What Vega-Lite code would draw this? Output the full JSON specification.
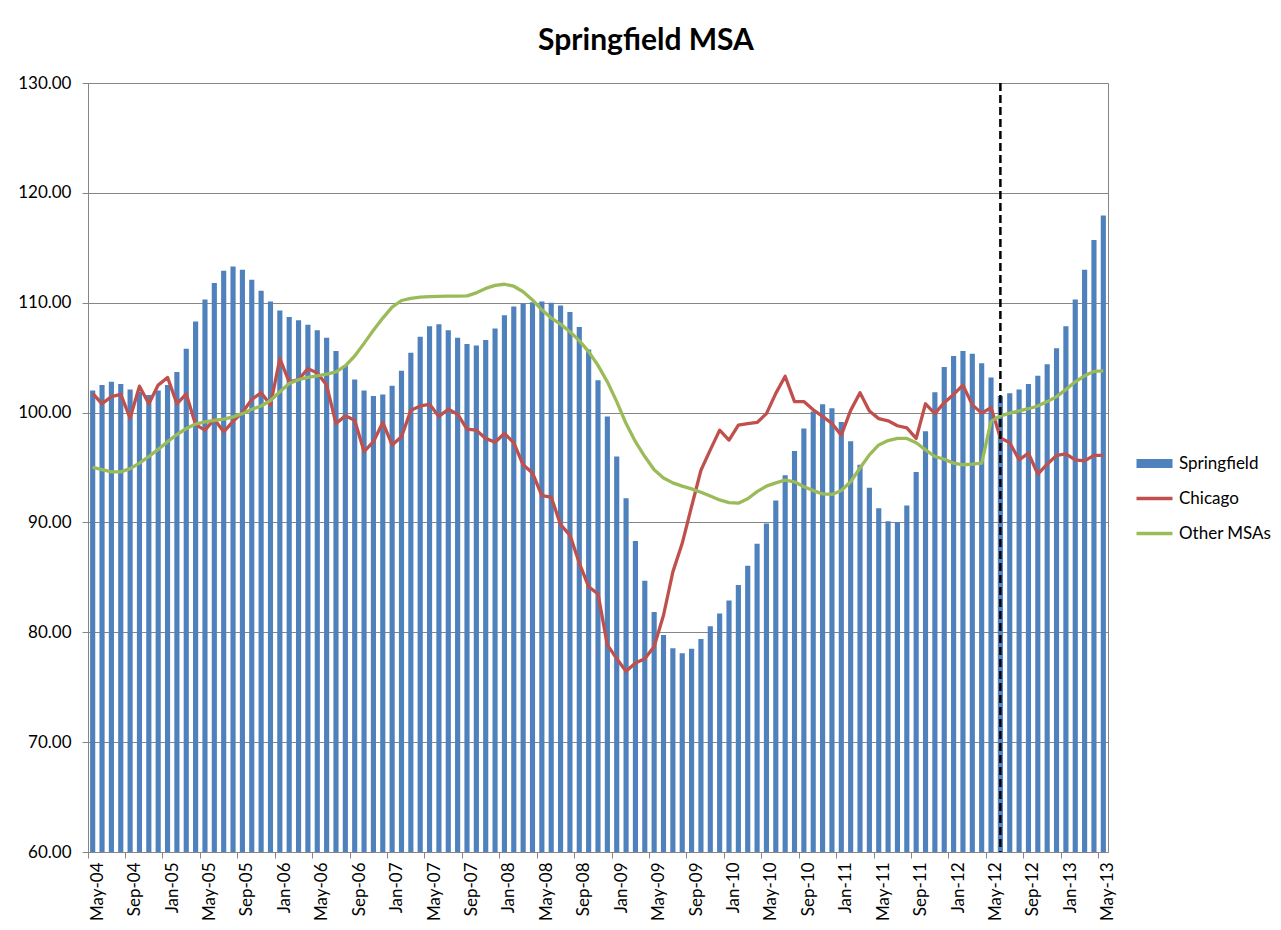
{
  "$schema": "https://vega.github.io/schema/vega-lite/v6.json",
  "width": 1020,
  "height": 769,
  "autosize": {"type": "none"},
  "padding": {"left": 88, "top": 83, "right": 173, "bottom": 78},
  "background": "white",
  "title": {"text": "Springfield MSA", "font": "Lato", "fontSize": 30, "fontWeight": "bold", "color": "black", "anchor": "middle", "frame": "group", "dx": 48, "dy": 30, "offset": 18, "baseline": "bottom"},
  "config": {"view": {"stroke": "#868686", "strokeWidth": 1}, "font": "Lato"},
  "data": {"values": [
    {"m": "May-04", "Springfield": 102.0, "Chicago": 101.75, "Other MSAs": 95.02},
    {"m": "Jun-04", "Springfield": 102.5, "Chicago": 100.8, "Other MSAs": 94.8},
    {"m": "Jul-04", "Springfield": 102.8, "Chicago": 101.45, "Other MSAs": 94.6},
    {"m": "Aug-04", "Springfield": 102.6, "Chicago": 101.65, "Other MSAs": 94.6},
    {"m": "Sep-04", "Springfield": 102.1, "Chicago": 99.5, "Other MSAs": 94.9},
    {"m": "Oct-04", "Springfield": 101.9, "Chicago": 102.4, "Other MSAs": 95.4},
    {"m": "Nov-04", "Springfield": 101.6, "Chicago": 100.8, "Other MSAs": 96.0},
    {"m": "Dec-04", "Springfield": 102.0, "Chicago": 102.5, "Other MSAs": 96.65},
    {"m": "Jan-05", "Springfield": 102.5, "Chicago": 103.2, "Other MSAs": 97.35},
    {"m": "Feb-05", "Springfield": 103.7, "Chicago": 100.8, "Other MSAs": 98.0},
    {"m": "Mar-05", "Springfield": 105.8, "Chicago": 101.7, "Other MSAs": 98.55},
    {"m": "Apr-05", "Springfield": 108.3, "Chicago": 98.9, "Other MSAs": 98.95},
    {"m": "May-05", "Springfield": 110.3, "Chicago": 98.4, "Other MSAs": 99.15},
    {"m": "Jun-05", "Springfield": 111.8, "Chicago": 99.4, "Other MSAs": 99.3},
    {"m": "Jul-05", "Springfield": 112.9, "Chicago": 98.25, "Other MSAs": 99.4},
    {"m": "Aug-05", "Springfield": 113.3, "Chicago": 99.2, "Other MSAs": 99.6},
    {"m": "Sep-05", "Springfield": 113.0, "Chicago": 100.0, "Other MSAs": 99.9},
    {"m": "Oct-05", "Springfield": 112.1, "Chicago": 101.2, "Other MSAs": 100.3},
    {"m": "Nov-05", "Springfield": 111.1, "Chicago": 101.8, "Other MSAs": 100.6},
    {"m": "Dec-05", "Springfield": 110.1, "Chicago": 100.7, "Other MSAs": 101.1},
    {"m": "Jan-06", "Springfield": 109.3, "Chicago": 104.9, "Other MSAs": 101.9},
    {"m": "Feb-06", "Springfield": 108.7, "Chicago": 102.8, "Other MSAs": 102.65},
    {"m": "Mar-06", "Springfield": 108.4, "Chicago": 103.0, "Other MSAs": 103.0},
    {"m": "Apr-06", "Springfield": 108.0, "Chicago": 104.0, "Other MSAs": 103.2},
    {"m": "May-06", "Springfield": 107.5, "Chicago": 103.6, "Other MSAs": 103.35},
    {"m": "Jun-06", "Springfield": 106.8, "Chicago": 102.5, "Other MSAs": 103.5},
    {"m": "Jul-06", "Springfield": 105.6, "Chicago": 99.0, "Other MSAs": 103.7},
    {"m": "Aug-06", "Springfield": 104.3, "Chicago": 99.7, "Other MSAs": 104.25},
    {"m": "Sep-06", "Springfield": 103.0, "Chicago": 99.3, "Other MSAs": 105.15},
    {"m": "Oct-06", "Springfield": 102.0, "Chicago": 96.45, "Other MSAs": 106.3},
    {"m": "Nov-06", "Springfield": 101.5, "Chicago": 97.35, "Other MSAs": 107.5},
    {"m": "Dec-06", "Springfield": 101.65, "Chicago": 99.1, "Other MSAs": 108.6},
    {"m": "Jan-07", "Springfield": 102.45, "Chicago": 97.05, "Other MSAs": 109.6},
    {"m": "Feb-07", "Springfield": 103.8, "Chicago": 97.8, "Other MSAs": 110.2},
    {"m": "Mar-07", "Springfield": 105.45, "Chicago": 100.2, "Other MSAs": 110.4},
    {"m": "Apr-07", "Springfield": 106.9, "Chicago": 100.6, "Other MSAs": 110.5},
    {"m": "May-07", "Springfield": 107.85, "Chicago": 100.75, "Other MSAs": 110.55},
    {"m": "Jun-07", "Springfield": 108.05, "Chicago": 99.65, "Other MSAs": 110.57},
    {"m": "Jul-07", "Springfield": 107.5, "Chicago": 100.3, "Other MSAs": 110.6},
    {"m": "Aug-07", "Springfield": 106.8, "Chicago": 99.85, "Other MSAs": 110.6},
    {"m": "Sep-07", "Springfield": 106.25, "Chicago": 98.5, "Other MSAs": 110.62},
    {"m": "Oct-07", "Springfield": 106.1, "Chicago": 98.4, "Other MSAs": 110.9},
    {"m": "Nov-07", "Springfield": 106.6, "Chicago": 97.65, "Other MSAs": 111.3},
    {"m": "Dec-07", "Springfield": 107.65, "Chicago": 97.3, "Other MSAs": 111.58},
    {"m": "Jan-08", "Springfield": 108.85, "Chicago": 98.1, "Other MSAs": 111.68},
    {"m": "Feb-08", "Springfield": 109.65, "Chicago": 97.25, "Other MSAs": 111.5},
    {"m": "Mar-08", "Springfield": 109.95, "Chicago": 95.25, "Other MSAs": 111.0},
    {"m": "Apr-08", "Springfield": 110.05, "Chicago": 94.5, "Other MSAs": 110.25},
    {"m": "May-08", "Springfield": 110.1, "Chicago": 92.45, "Other MSAs": 109.35},
    {"m": "Jun-08", "Springfield": 110.0, "Chicago": 92.3, "Other MSAs": 108.6},
    {"m": "Jul-08", "Springfield": 109.75, "Chicago": 89.8, "Other MSAs": 108.05},
    {"m": "Aug-08", "Springfield": 109.15, "Chicago": 88.85, "Other MSAs": 107.35},
    {"m": "Sep-08", "Springfield": 107.8, "Chicago": 86.3, "Other MSAs": 106.55},
    {"m": "Oct-08", "Springfield": 105.75, "Chicago": 84.15, "Other MSAs": 105.55},
    {"m": "Nov-08", "Springfield": 102.95, "Chicago": 83.5, "Other MSAs": 104.3},
    {"m": "Dec-08", "Springfield": 99.65, "Chicago": 78.85, "Other MSAs": 102.8},
    {"m": "Jan-09", "Springfield": 96.0, "Chicago": 77.6, "Other MSAs": 101.0},
    {"m": "Feb-09", "Springfield": 92.2, "Chicago": 76.45, "Other MSAs": 99.0},
    {"m": "Mar-09", "Springfield": 88.3, "Chicago": 77.2, "Other MSAs": 97.35},
    {"m": "Apr-09", "Springfield": 84.7, "Chicago": 77.6, "Other MSAs": 96.0},
    {"m": "May-09", "Springfield": 81.85, "Chicago": 78.7, "Other MSAs": 94.8},
    {"m": "Jun-09", "Springfield": 79.75, "Chicago": 81.55, "Other MSAs": 94.05},
    {"m": "Jul-09", "Springfield": 78.55, "Chicago": 85.5, "Other MSAs": 93.6},
    {"m": "Aug-09", "Springfield": 78.1, "Chicago": 88.1, "Other MSAs": 93.3},
    {"m": "Sep-09", "Springfield": 78.5, "Chicago": 91.45, "Other MSAs": 93.05},
    {"m": "Oct-09", "Springfield": 79.4, "Chicago": 94.75, "Other MSAs": 92.75},
    {"m": "Nov-09", "Springfield": 80.55, "Chicago": 96.6, "Other MSAs": 92.4},
    {"m": "Dec-09", "Springfield": 81.7, "Chicago": 98.4, "Other MSAs": 92.05},
    {"m": "Jan-10", "Springfield": 82.9, "Chicago": 97.5, "Other MSAs": 91.8},
    {"m": "Feb-10", "Springfield": 84.3, "Chicago": 98.85, "Other MSAs": 91.75},
    {"m": "Mar-10", "Springfield": 86.05, "Chicago": 99.0, "Other MSAs": 92.15},
    {"m": "Apr-10", "Springfield": 88.05, "Chicago": 99.1, "Other MSAs": 92.8},
    {"m": "May-10", "Springfield": 89.9, "Chicago": 99.9, "Other MSAs": 93.3},
    {"m": "Jun-10", "Springfield": 92.0, "Chicago": 101.75, "Other MSAs": 93.6},
    {"m": "Jul-10", "Springfield": 94.3, "Chicago": 103.3, "Other MSAs": 93.85},
    {"m": "Aug-10", "Springfield": 96.5, "Chicago": 101.0, "Other MSAs": 93.7},
    {"m": "Sep-10", "Springfield": 98.55, "Chicago": 101.0, "Other MSAs": 93.25},
    {"m": "Oct-10", "Springfield": 100.1, "Chicago": 100.25, "Other MSAs": 92.9},
    {"m": "Nov-10", "Springfield": 100.75, "Chicago": 99.65, "Other MSAs": 92.6},
    {"m": "Dec-10", "Springfield": 100.4, "Chicago": 99.0, "Other MSAs": 92.55},
    {"m": "Jan-11", "Springfield": 99.15, "Chicago": 97.95, "Other MSAs": 92.9},
    {"m": "Feb-11", "Springfield": 97.4, "Chicago": 100.2, "Other MSAs": 93.7},
    {"m": "Mar-11", "Springfield": 95.25, "Chicago": 101.8, "Other MSAs": 94.95},
    {"m": "Apr-11", "Springfield": 93.15, "Chicago": 100.15, "Other MSAs": 96.15},
    {"m": "May-11", "Springfield": 91.3, "Chicago": 99.45, "Other MSAs": 97.05},
    {"m": "Jun-11", "Springfield": 90.1, "Chicago": 99.25, "Other MSAs": 97.45},
    {"m": "Jul-11", "Springfield": 90.05, "Chicago": 98.8, "Other MSAs": 97.65},
    {"m": "Aug-11", "Springfield": 91.55, "Chicago": 98.6, "Other MSAs": 97.65},
    {"m": "Sep-11", "Springfield": 94.6, "Chicago": 97.65, "Other MSAs": 97.25},
    {"m": "Oct-11", "Springfield": 98.3, "Chicago": 100.8, "Other MSAs": 96.6},
    {"m": "Nov-11", "Springfield": 101.85, "Chicago": 99.9, "Other MSAs": 96.0},
    {"m": "Dec-11", "Springfield": 104.15, "Chicago": 100.9, "Other MSAs": 95.75},
    {"m": "Jan-12", "Springfield": 105.15, "Chicago": 101.65, "Other MSAs": 95.4},
    {"m": "Feb-12", "Springfield": 105.6, "Chicago": 102.5, "Other MSAs": 95.25},
    {"m": "Mar-12", "Springfield": 105.35, "Chicago": 100.7, "Other MSAs": 95.3},
    {"m": "Apr-12", "Springfield": 104.5, "Chicago": 99.95, "Other MSAs": 95.4},
    {"m": "May-12", "Springfield": 103.2, "Chicago": 100.45, "Other MSAs": 99.2},
    {"m": "Jun-12", "Springfield": 101.5, "Chicago": 97.7, "Other MSAs": 99.7},
    {"m": "Jul-12", "Springfield": 101.75, "Chicago": 97.25, "Other MSAs": 99.95},
    {"m": "Aug-12", "Springfield": 102.1, "Chicago": 95.7, "Other MSAs": 100.15},
    {"m": "Sep-12", "Springfield": 102.6, "Chicago": 96.3, "Other MSAs": 100.35},
    {"m": "Oct-12", "Springfield": 103.35, "Chicago": 94.4, "Other MSAs": 100.6},
    {"m": "Nov-12", "Springfield": 104.4, "Chicago": 95.3, "Other MSAs": 101.0},
    {"m": "Dec-12", "Springfield": 105.85, "Chicago": 96.1, "Other MSAs": 101.45},
    {"m": "Jan-13", "Springfield": 107.85, "Chicago": 96.25, "Other MSAs": 102.1},
    {"m": "Feb-13", "Springfield": 110.3, "Chicago": 95.7, "Other MSAs": 102.8},
    {"m": "Mar-13", "Springfield": 113.0, "Chicago": 95.6, "Other MSAs": 103.35},
    {"m": "Apr-13", "Springfield": 115.7, "Chicago": 96.1, "Other MSAs": 103.75},
    {"m": "May-13", "Springfield": 117.95, "Chicago": 96.1, "Other MSAs": 103.8}
  ]},
  "encoding": {
    "x": {
      "field": "m", "type": "ordinal", "sort": null,
      "scale": {"paddingInner": 0, "paddingOuter": 0},
      "axis": {
        "title": null,
        "values": ["May-04","Sep-04","Jan-05","May-05","Sep-05","Jan-06","May-06","Sep-06","Jan-07","May-07","Sep-07","Jan-08","May-08","Sep-08","Jan-09","May-09","Sep-09","Jan-10","May-10","Sep-10","Jan-11","May-11","Sep-11","Jan-12","May-12","Sep-12","Jan-13","May-13"],
        "bandPosition": 0, "labelOffset": 5, "labelAngle": -90,
        "tickSize": 6, "labelPadding": 4, "grid": false,
        "domainColor": "#868686", "tickColor": "#868686",
        "labelFont": "Lato", "labelFontSize": 17, "labelColor": "black"
      }
    }
  },
  "layer": [
    {
      "mark": {"type": "bar", "width": {"band": 0.55}},
      "encoding": {
        "y": {
          "field": "Springfield", "type": "quantitative",
          "scale": {"domain": [60, 130], "zero": false, "nice": false},
          "axis": {
            "title": null, "values": [60, 70, 80, 90, 100, 110, 120, 130], "format": ".2f",
            "grid": true, "gridColor": "#868686", "gridWidth": 1,
            "tickSize": 6, "labelPadding": 11,
            "domainColor": "#868686", "tickColor": "#868686",
            "labelFont": "Lato", "labelFontSize": 17, "labelColor": "black"
          }
        },
        "y2": {"datum": 60},
        "color": {
          "datum": "Springfield", "type": "nominal",
          "scale": {"domain": ["Springfield", "Chicago", "Other MSAs"], "range": ["#4F81BD", "#C0504D", "#9BBB59"]},
          "legend": {
            "title": null, "orient": "none", "legendX": 1058, "legendY": 372,
            "symbolType": "stroke", "symbolSize": 1296, "symbolStrokeWidth": 0, "rowPadding": 7, "padding": 0, "gridAlign": "all",
            "labelFont": "Lato", "labelFontSize": 17, "labelColor": "black", "labelOffset": 16,
            "encode": {"symbols": {"update": {
              "strokeWidth": {"signal": "datum.value === 'Springfield' ? 9 : 3.5"},
              "stroke": {"scale": "color", "field": "value"},
              "fill": {"value": "transparent"},
              "shape": {"value": "stroke"},
              "opacity": {"value": 1}
            }}}
          }
        }
      }
    },
    {
      "transform": [{"fold": ["Chicago", "Other MSAs"], "as": ["series", "value"]}],
      "mark": {"type": "line", "strokeWidth": 3.3, "strokeJoin": "round"},
      "encoding": {
        "y": {"field": "value", "type": "quantitative"},
        "color": {
          "field": "series", "type": "nominal",
          "scale": {"domain": ["Springfield", "Chicago", "Other MSAs"], "range": ["#4F81BD", "#C0504D", "#9BBB59"]},
          "legend": {
            "title": null, "orient": "none", "legendX": 1058, "legendY": 372,
            "symbolType": "stroke", "symbolSize": 1296, "symbolStrokeWidth": 0, "rowPadding": 7, "padding": 0, "gridAlign": "all",
            "labelFont": "Lato", "labelFontSize": 17, "labelColor": "black", "labelOffset": 16,
            "encode": {"symbols": {"update": {
              "strokeWidth": {"signal": "datum.value === 'Springfield' ? 9 : 3.5"},
              "stroke": {"scale": "color", "field": "value"},
              "fill": {"value": "transparent"},
              "shape": {"value": "stroke"},
              "opacity": {"value": 1}
            }}}
          }
        }
      }
    },
    {
      "transform": [{"filter": "datum.m === 'Jun-12'"}],
      "mark": {"type": "rule", "strokeDash": [8, 4], "strokeWidth": 2.5, "color": "black"},
      "encoding": {}
    }
  ]
}
